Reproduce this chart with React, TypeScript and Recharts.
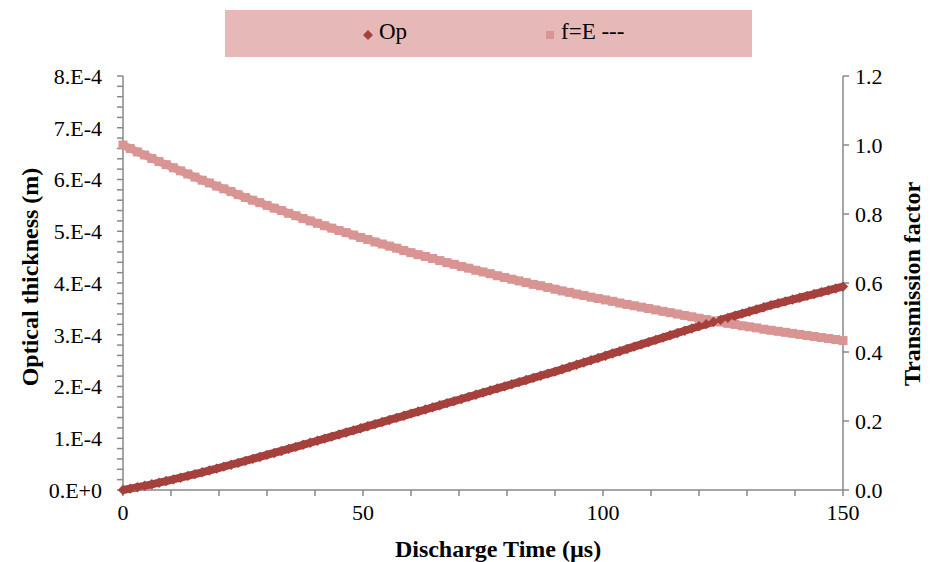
import React from "react";
import { ComposedChart, Line, XAxis, YAxis } from "recharts";

// discharge time (µs)
const times = [
  0, 1.5, 3, 4.5, 6, 7.5, 9, 10.5, 12, 13.5, 15, 16.5, 18, 19.5, 21, 22.5, 24, 25.5, 27, 28.5,
  30, 31.5, 33, 34.5, 36, 37.5, 39, 40.5, 42, 43.5, 45, 46.5, 48, 49.5, 51, 52.5, 54, 55.5, 57, 58.5,
  60, 61.5, 63, 64.5, 66, 67.5, 69, 70.5, 72, 73.5, 75, 76.5, 78, 79.5, 81, 82.5, 84, 85.5, 87, 88.5,
  90, 91.5, 93, 94.5, 96, 97.5, 99, 100.5, 102, 103.5, 105, 106.5, 108, 109.5, 111, 112.5, 114, 115.5, 117, 118.5,
  120, 121.5, 123, 124.5, 126, 127.5, 129, 130.5, 132, 133.5, 135, 136.5, 138, 139.5, 141, 142.5, 144, 145.5, 147, 148.5,
  150,
];

// optical thickness, in µm (shown on the axis in metres)
const opticalThickness = [
  0, 2.6, 5.3, 8.1, 11.0, 14.1, 17.3, 20.5, 23.8, 27.2, 30.7, 34.2, 37.8, 41.4, 45.1, 48.8, 52.5, 56.3, 60.1, 63.9,
  67.8, 71.6, 75.5, 79.4, 83.4, 87.3, 91.3, 95.2, 99.2, 103.2, 107.2, 111.2, 115.2, 119.2, 123.3, 127.3, 131.3, 135.4, 139.4, 143.4,
  147.5, 151.6, 155.6, 159.7, 163.7, 167.8, 171.8, 175.9, 180.0, 184.0, 188.1, 192.2, 196.3, 200.3, 204.4, 208.5, 212.5, 216.6, 220.7, 224.8,
  228.8, 233.2, 237.6, 242.0, 246.4, 250.7, 255.1, 259.5, 263.9, 268.2, 272.6, 277.0, 281.4, 285.8, 290.1, 294.5, 298.9, 303.3, 307.7, 312.0,
  316.4, 320.5, 324.6, 328.7, 332.7, 336.8, 340.9, 345.0, 349.1, 353.1, 357.2, 360.8, 364.4, 368.0, 371.5, 375.1, 378.7, 382.3, 385.9, 389.4,
  393.0,
];

// transmission factor
const transmission = [
  1.000, 0.990, 0.980, 0.971, 0.961, 0.952, 0.943, 0.934,
  0.925, 0.916, 0.907, 0.898, 0.890, 0.881, 0.873, 0.865,
  0.856, 0.848, 0.840, 0.833, 0.825, 0.817, 0.810, 0.802,
  0.795, 0.787, 0.780, 0.773, 0.766, 0.759, 0.752, 0.746,
  0.739, 0.732, 0.726, 0.719, 0.713, 0.707, 0.701, 0.694,
  0.688, 0.682, 0.677, 0.671, 0.665, 0.659, 0.654, 0.648,
  0.643, 0.637, 0.632, 0.627, 0.621, 0.616, 0.611, 0.606,
  0.601, 0.596, 0.592, 0.587, 0.582, 0.577, 0.573, 0.568,
  0.564, 0.559, 0.555, 0.551, 0.547, 0.542, 0.538, 0.534,
  0.530, 0.526, 0.522, 0.518, 0.514, 0.510, 0.506, 0.502,
  0.498, 0.494, 0.490, 0.487, 0.483, 0.480, 0.476, 0.473,
  0.470, 0.466, 0.463, 0.460, 0.457, 0.454, 0.451, 0.448,
  0.445, 0.442, 0.439, 0.436, 0.433,
];

const xTicks = [0, 10, 20, 30, 40, 50, 60, 70, 80, 90, 100, 110, 120, 130, 140, 150];
const xLabelled = [0, 50, 100, 150];
// left axis ticks in µm: minor every 20, labelled every 100
const leftTicks = [
  0, 20, 40, 60, 80, 100, 120, 140, 160, 180, 200, 220, 240, 260, 280, 300, 320, 340, 360, 380,
  400, 420, 440, 460, 480, 500, 520, 540, 560, 580, 600, 620, 640, 660, 680, 700, 720, 740, 760, 780, 800,
];
const rightTicks = [0, 0.2, 0.4, 0.6, 0.8, 1.0, 1.2];

const OP_COLOR = "#A5403C";
const F_COLOR = "#D89593";
const AXIS = "#888888";
const FONT = "'Liberation Serif', 'Times New Roman', serif";

const rows = times.map((t, i) => ({ t, op: opticalThickness[i], f: transmission[i] }));

const Diamond = (p: any) => {
  const { cx, cy } = p;
  if (cx == null || cy == null) return <g key={p.key} />;
  const r = 5.2;
  return (
    <path
      key={p.key}
      d={`M${cx},${cy - r}L${cx + r},${cy}L${cx},${cy + r}L${cx - r},${cy}Z`}
      fill={OP_COLOR}
    />
  );
};

const Square = (p: any) => {
  const { cx, cy } = p;
  if (cx == null || cy == null) return <g key={p.key} />;
  const s = 9;
  return <rect key={p.key} x={cx - s / 2} y={cy - s / 2} width={s} height={s} fill={F_COLOR} />;
};

const leftFmt = (v: number) => {
  if (v % 100 !== 0) return "";
  return v === 0 ? "0.E+0" : `${v / 100}.E-4`;
};

const LegendBox = () => (
  <div
    style={{
      position: "absolute",
      left: 225,
      top: 10,
      width: 527,
      height: 47,
      background: "#E6B9B8",
      fontFamily: FONT,
      fontSize: 23,
      color: "#000",
    }}
  >
    <svg width={12} height={12} style={{ position: "absolute", left: 137, top: 19 }}>
      <path d="M6,1L11,6L6,11L1,6Z" fill={OP_COLOR} />
    </svg>
    <span style={{ position: "absolute", left: 154, top: 9, lineHeight: "26px" }}>Op</span>
    <div style={{ position: "absolute", left: 321, top: 21, width: 8, height: 8, background: F_COLOR }} />
    <span style={{ position: "absolute", left: 336, top: 9, lineHeight: "26px" }}>f=E ---</span>
  </div>
);

export default function App() {
  const tickStyle = { fill: "#000", fontSize: 22, fontFamily: FONT };
  const titleStyle = { fontSize: 24, fontWeight: 700, fontFamily: FONT, fill: "#000" };
  return (
    <div style={{ position: "absolute", left: 0, top: 0, width: 935, height: 562, background: "#fff" }}>
      <ComposedChart width={935} height={562} data={rows} margin={{ top: 76, right: 0, bottom: 0, left: 0 }}>
        <XAxis
          dataKey="t"
          type="number"
          domain={[0, 150]}
          ticks={xTicks}
          interval={0}
          height={72}
          tickSize={6}
          tickMargin={8}
          axisLine={{ stroke: AXIS, strokeWidth: 1.5 }}
          tickLine={{ stroke: AXIS, strokeWidth: 1.5 }}
          tick={tickStyle}
          tickFormatter={(v: number) => (xLabelled.includes(v) ? String(v) : "")}
          label={() => (
            <text x={498} y={557} textAnchor="middle" style={titleStyle}>
              Discharge Time (µs)
            </text>
          )}
        />
        <YAxis
          yAxisId="left"
          width={123}
          domain={[0, 800]}
          ticks={leftTicks}
          interval={0}
          tickSize={6}
          tickMargin={15}
          axisLine={{ stroke: AXIS, strokeWidth: 1.5 }}
          tickLine={{ stroke: AXIS, strokeWidth: 1.5 }}
          tick={tickStyle}
          tickFormatter={leftFmt}
          label={() => (
            <text transform="translate(38,277) rotate(-90)" textAnchor="middle" style={titleStyle}>
              Optical thickness (m)
            </text>
          )}
        />
        <YAxis
          yAxisId="right"
          orientation="right"
          width={92}
          domain={[0, 1.2]}
          ticks={rightTicks}
          interval={0}
          tickSize={6}
          tickMargin={6}
          axisLine={{ stroke: AXIS, strokeWidth: 1.5 }}
          tickLine={{ stroke: AXIS, strokeWidth: 1.5 }}
          tick={tickStyle}
          tickFormatter={(v: number) => v.toFixed(1)}
          label={() => (
            <text transform="translate(920,284) rotate(-90)" textAnchor="middle" style={titleStyle}>
              Transmission factor
            </text>
          )}
        />
        <Line
          yAxisId="right"
          dataKey="f"
          name="f=E ---"
          stroke={F_COLOR}
          strokeWidth={8}
          dot={Square}
          activeDot={false}
          isAnimationActive={false}
        />
        <Line
          yAxisId="left"
          dataKey="op"
          name="Op"
          stroke={OP_COLOR}
          strokeWidth={8}
          dot={Diamond}
          activeDot={false}
          isAnimationActive={false}
        />
      </ComposedChart>
      <LegendBox />
    </div>
  );
}
